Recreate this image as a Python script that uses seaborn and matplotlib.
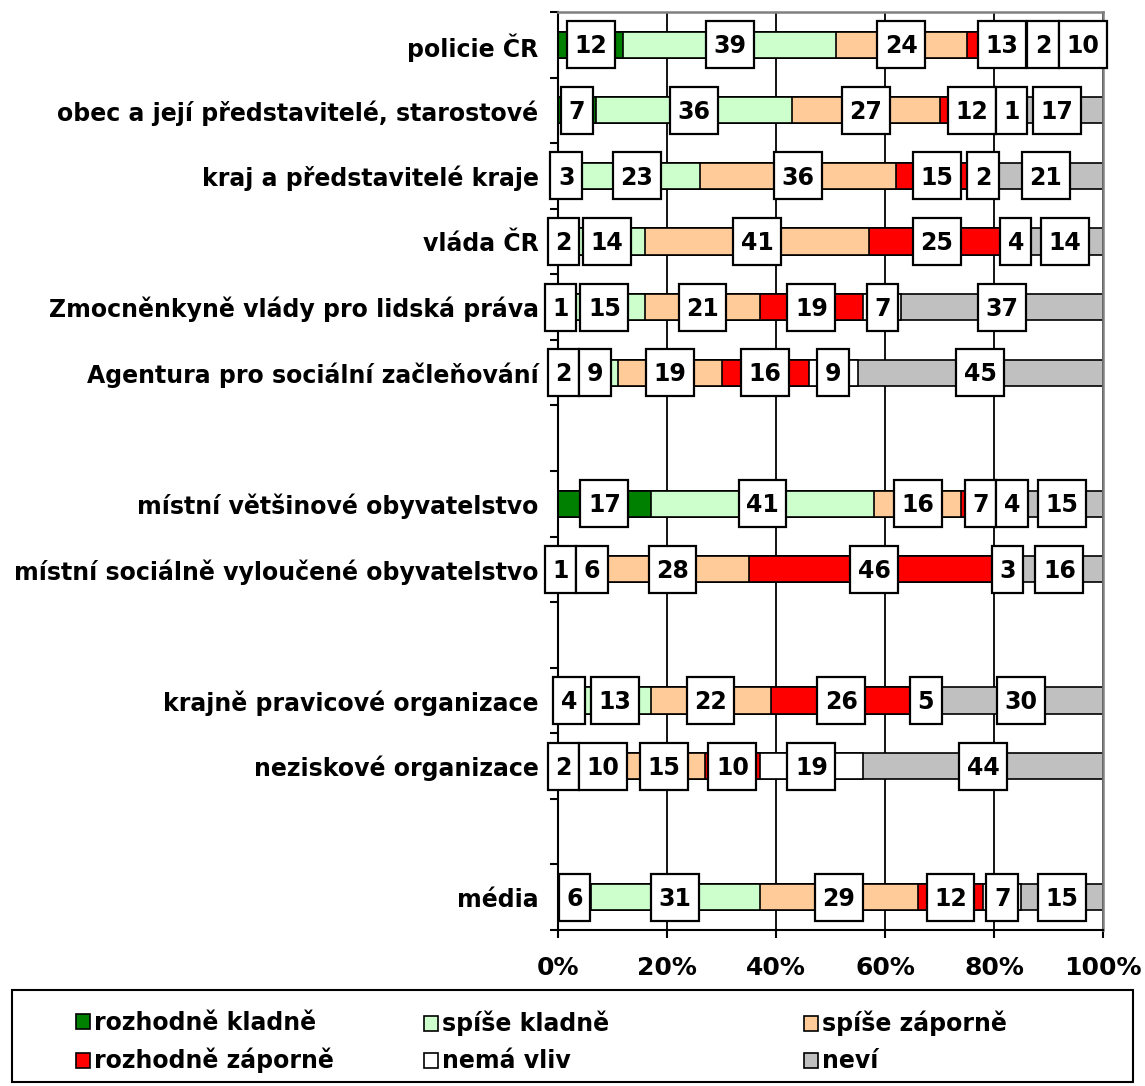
import numpy as np
import pandas as pd
import matplotlib
matplotlib.use("Agg")
import matplotlib.pyplot as plt
import seaborn as sns
from matplotlib.patches import Rectangle, Patch
from matplotlib.font_manager import FontProperties

# ---------------- data ----------------
categories = [
    "policie ČR",
    "obec a její představitelé, starostové",
    "kraj a představitelé kraje",
    "vláda ČR",
    "Zmocněnkyně vlády pro lidská práva",
    "Agentura pro sociální začleňování",
    "místní většinové obyvatelstvo",
    "místní sociálně vyloučené obyvatelstvo",
    "krajně pravicové organizace",
    "neziskové organizace",
    "média",
]
group_sizes = [6, 2, 2, 1]   # rows per group, blank row between groups

series = ["rozhodně kladně", "spíše kladně", "spíše záporně",
          "rozhodně záporně", "nemá vliv", "neví"]
rozhodne_kladne = [12, 7, 3, 2, 1, 2, 17, 1, 4, 2, 6]
spise_kladne = [39, 36, 23, 14, 15, 9, 41, 6, 13, 10, 31]
spise_zaporne = [24, 27, 36, 41, 21, 19, 16, 28, 22, 15, 29]
rozhodne_zaporne = [13, 12, 15, 25, 19, 16, 7, 46, 26, 10, 12]
nema_vliv = [2, 1, 2, 4, 7, 9, 4, 3, 5, 19, 7]
nevi = [10, 17, 21, 14, 37, 45, 15, 16, 30, 44, 15]
values = [rozhodne_kladne, spise_kladne, spise_zaporne,
          rozhodne_zaporne, nema_vliv, nevi]
colors = ["#008000", "#CCFFCC", "#FFCC99", "#FF0000", "#FFFFFF", "#C0C0C0"]
x_ticks = [0, 20, 40, 60, 80, 100]
x_tick_labels = ["0%", "20%", "40%", "60%", "80%", "100%"]

# ---------------- style ----------------
sns.set_style("white")
plt.rcParams["font.family"] = ["DejaVu Sans"]
plt.rcParams["font.weight"] = "bold"
for key in ["text.color", "axes.labelcolor", "xtick.color", "ytick.color"]:
    plt.rcParams[key] = "black"

df = pd.DataFrame({"kategorie": categories})
for s, v in zip(series, values):
    df[s] = v
cum = df[series].cumsum(axis=1)

# slot order with blank placeholders between groups
order = []
labels = []
idx = 0
for g, n in enumerate(group_sizes):
    for _ in range(n):
        order.append(categories[idx])
        labels.append(categories[idx])
        idx += 1
    if g < len(group_sizes) - 1:
        order.append(" " * (g + 1))
        labels.append("")
n_slots = len(order)

fig = plt.figure(figsize=(11.45, 10.86), dpi=100)
ax = fig.add_axes([558 / 1145, 1 - 930 / 1086, 545 / 1145, 918 / 1086])

for s, c in reversed(list(zip(series, colors))):
    d = pd.DataFrame({"kategorie": df["kategorie"], "val": cum[s]})
    sns.barplot(data=d, x="val", y="kategorie", order=order, orient="h",
                color=c, saturation=1, width=0.4, edgecolor="black",
                linewidth=1.2, errorbar=None, ax=ax, zorder=2)

ax.set_xlim(0, 100)
ax.set_ylim(n_slots - 0.5, -0.5)
ax.set_xlabel("")
ax.set_ylabel("")
ax.set_xticks(x_ticks, labels=x_tick_labels)
ax.set_yticks(range(n_slots), labels=labels)
ax.set_yticks(np.arange(-0.5, n_slots, 1.0), minor=True)
ax.tick_params(axis="y", which="major", length=0, pad=14, labelsize=17,
               labelcolor="black")
ax.tick_params(axis="y", which="minor", length=6, width=1.5, color="black",
               direction="out", left=True)
ax.tick_params(axis="x", which="major", length=6, width=1.5, color="black",
               direction="out", bottom=True, pad=13, labelsize=18,
               labelcolor="black")
for lab in ax.get_xticklabels() + ax.get_yticklabels():
    lab.set_fontweight("bold")

ax.xaxis.grid(True, color="black", linewidth=1.3)
ax.yaxis.grid(False)
ax.set_axisbelow(True)
for side in ["left", "bottom"]:
    ax.spines[side].set_color("black")
    ax.spines[side].set_linewidth(1.5)
for side in ["top", "right"]:
    ax.spines[side].set_color("#808080")
    ax.spines[side].set_linewidth(1.8)
    ax.spines[side].set_visible(True)

# ---------------- value labels in boxes ----------------
fig.canvas.draw()
renderer = fig.canvas.get_renderer()
bb = ax.get_window_extent(renderer)
px_x = bb.width / 100.0
px_y = bb.height / n_slots
label_fs = 17
fp = FontProperties(family="DejaVu Sans", weight="bold", size=label_fs)
pad_px = 7.5
box_h = 47 / px_y
digit_h_px = 0.729 * label_fs * fig.dpi / 72.0

for i, cat in enumerate(categories):
    ypos = order.index(cat)
    prev_right = -1e9
    start = 0.0
    for s in series:
        v = df.loc[i, s]
        cx = start + v / 2.0
        start += v
        txt = str(v)
        tw, th, td = renderer.get_text_width_height_descent(txt, fp, ismath=False)
        w = (tw + 2 * pad_px) / px_x
        left = cx - w / 2.0
        if left < prev_right:
            left = prev_right
        cx = left + w / 2.0
        prev_right = left + w
        ax.add_patch(Rectangle((left, ypos - box_h / 2), w, box_h,
                               facecolor="white", edgecolor="black",
                               linewidth=1.6, zorder=5, clip_on=False))
        ax.annotate(txt, xy=(cx, ypos),
                    xytext=(0, -digit_h_px / 2 * 72.0 / fig.dpi),
                    textcoords="offset points", ha="center", va="baseline",
                    fontproperties=fp, color="black", zorder=6,
                    annotation_clip=False)

# ---------------- legend ----------------
fig.add_artist(Rectangle((12 / 1145, 1 - 1082 / 1086), 1121 / 1145,
                         (1082 - 990) / 1086, transform=fig.transFigure,
                         fill=False, edgecolor="black", linewidth=1.5))
col_x = [76, 424, 804]
for k in range(3):
    handles = [Patch(facecolor=colors[k], edgecolor="black", linewidth=1.2),
               Patch(facecolor=colors[k + 3], edgecolor="black", linewidth=1.2)]
    leg = fig.legend(handles=handles, labels=[series[k], series[k + 3]],
                     loc="upper left",
                     bbox_to_anchor=(col_x[k] / 1145, 1 - 1011 / 1086),
                     frameon=False, borderpad=0, borderaxespad=0,
                     handlelength=0.6, handleheight=0.6, handletextpad=0.15,
                     labelspacing=0.55,
                     prop=FontProperties(family="DejaVu Sans", weight="bold",
                                         size=17))
    for t in leg.get_texts():
        t.set_color("black")

fig.savefig("out.png", dpi=100)
